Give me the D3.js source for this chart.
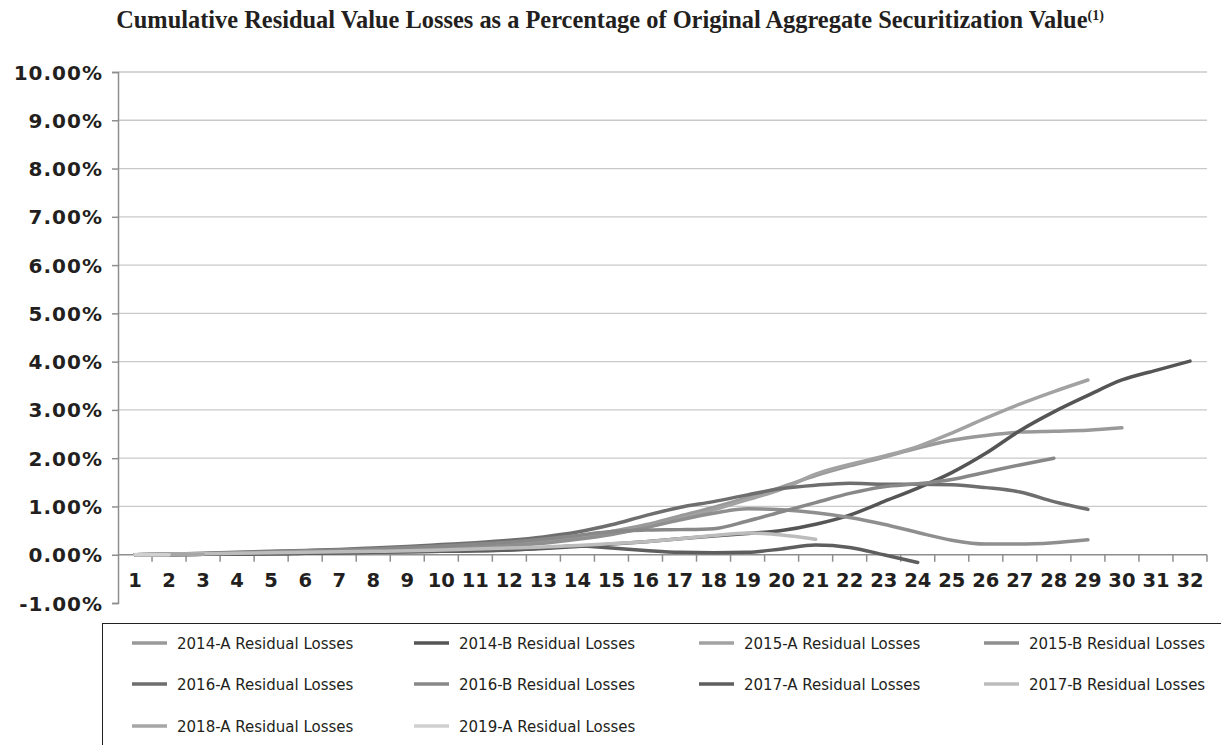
<!DOCTYPE html>
<html>
<head>
<meta charset="utf-8">
<script src="https://cdn.jsdelivr.net/npm/d3@7"></script>
<style>
  body { margin: 0; background: #fff; }
  svg { display: block; }
</style>
</head>
<body>
<div class="chart"></div>
<script>
// months since securitization, 1..32
const months = d3.range(1, 33);
const yTicks = [-0.01, 0, 0.01, 0.02, 0.03, 0.04, 0.05, 0.06, 0.07, 0.08, 0.09, 0.10];

// cumulative residual losses, in percent
const s2014A = [0, 0.01, 0.02, 0.03, 0.05, 0.06, 0.08, 0.10, 0.12, 0.14, 0.17, 0.21, 0.27, 0.36, 0.48, 0.62, 0.80, 0.98, 1.18, 1.40, 1.64, 1.84, 2.02, 2.21, 2.37, 2.47, 2.54, 2.56, 2.58, 2.63];
const s2014B = [0, 0.0, 0.01, 0.02, 0.02, 0.03, 0.04, 0.05, 0.06, 0.07, 0.08, 0.10, 0.13, 0.17, 0.22, 0.27, 0.33, 0.39, 0.44, 0.50, 0.63, 0.82, 1.10, 1.38, 1.70, 2.10, 2.57, 2.96, 3.30, 3.62, 3.82, 4.01];
const s2015A = [0, 0.01, 0.02, 0.03, 0.05, 0.06, 0.08, 0.10, 0.12, 0.14, 0.17, 0.20, 0.26, 0.34, 0.44, 0.57, 0.74, 0.93, 1.14, 1.36, 1.67, 1.87, 2.04, 2.24, 2.52, 2.83, 3.12, 3.38, 3.62];
const s2015B = [0, 0.01, 0.02, 0.03, 0.04, 0.06, 0.07, 0.09, 0.11, 0.13, 0.16, 0.19, 0.24, 0.32, 0.42, 0.56, 0.72, 0.86, 0.95, 0.93, 0.87, 0.77, 0.63, 0.46, 0.30, 0.22, 0.22, 0.25, 0.31];
const s2016A = [0, 0.01, 0.03, 0.05, 0.07, 0.09, 0.11, 0.14, 0.17, 0.21, 0.25, 0.30, 0.37, 0.47, 0.62, 0.81, 0.98, 1.10, 1.24, 1.37, 1.44, 1.48, 1.46, 1.46, 1.45, 1.39, 1.30, 1.10, 0.94];
const s2016B = [0, 0.01, 0.02, 0.04, 0.06, 0.08, 0.10, 0.12, 0.15, 0.18, 0.22, 0.26, 0.32, 0.40, 0.48, 0.51, 0.52, 0.54, 0.70, 0.89, 1.08, 1.27, 1.41, 1.47, 1.56, 1.71, 1.86, 2.00];
const s2017A = [0, 0.0, 0.01, 0.01, 0.02, 0.03, 0.04, 0.05, 0.06, 0.07, 0.08, 0.10, 0.14, 0.18, 0.14, 0.09, 0.05, 0.04, 0.05, 0.12, 0.20, 0.15, 0.0, -0.16];
const s2017B = [0, 0.01, 0.02, 0.03, 0.04, 0.05, 0.06, 0.07, 0.08, 0.10, 0.12, 0.14, 0.16, 0.19, 0.23, 0.27, 0.33, 0.40, 0.45, 0.41, 0.32];
const s2018A = [0, 0.0, 0.01];
const s2019A = [0, 0.0];

const seriesNames = ['2014-A', '2014-B', '2015-A', '2015-B', '2016-A', '2016-B', '2017-A', '2017-B', '2018-A', '2019-A'];
const seriesValues = [s2014A, s2014B, s2015A, s2015B, s2016A, s2016B, s2017A, s2017B, s2018A, s2019A];
const seriesColors = ['#999999', '#555555', '#a2a2a2', '#8f8f8f', '#6e6e6e', '#888888', '#5e5e5e', '#bcbcbc', '#a6a6a6', '#d0d0d0'];

const width = 1221;
const height = 745;
const svg = d3.select('.chart')
    .append('svg')
    .attr('width', width)
    .attr('height', height)

// title
const title = svg.append('text')
    .attr('x', 610)
    .attr('y', 28)
    .attr('text-anchor', 'middle')
    .attr('font-family', '"Liberation Serif", "Times New Roman", serif')
    .attr('font-weight', 'bold')
    .attr('font-size', 24.4)
    .attr('fill', '#231f20')
title.append('tspan').text('Cumulative Residual Value Losses as a Percentage of Original Aggregate Securitization Value')
title.append('tspan').attr('dy', -8).attr('font-size', 14).text('(1)')

const x = d3.scaleBand()
    .domain(months)
    .range([118, 1207])
const y = d3.scaleLinear()
    .domain([-0.01, 0.10])
    .range([603, 72])
const cx = (m) => x(m) + x.bandwidth() / 2
const pct = (d) => d3.format('.2%')(d).replace('\u2212', '-')

// gridlines
svg.selectAll('.grid')
    .data(yTicks.filter(t => t !== 0 && t !== -0.01))
    .enter()
    .append('line')
    .attr('x1', 118)
    .attr('x2', 1207)
    .attr('y1', (d) => y(d))
    .attr('y2', (d) => y(d))
    .attr('stroke', '#c9c9c9')
    .attr('stroke-width', 1.3)

// y axis
const yAxis = svg.append('g')
    .attr('transform', 'translate(118,0)')
    .call(d3.axisLeft(y).tickValues(yTicks).tickFormat(pct).tickSize(6).tickPadding(9))
yAxis.select('.domain').attr('stroke', '#8e8e8e').attr('stroke-width', 1.5)
yAxis.selectAll('.tick line').attr('stroke', '#8e8e8e').attr('stroke-width', 1.5)
yAxis.selectAll('text')
    .attr('font-family', '"DejaVu Sans", Verdana, sans-serif')
    .attr('font-weight', 'bold')
    .attr('font-size', 20)
    .attr('letter-spacing', 1)
    .attr('fill', '#231f20')
    .attr('dy', '0.35em')

// x axis at zero
svg.append('line')
    .attr('x1', 118).attr('x2', 1207)
    .attr('y1', y(0)).attr('y2', y(0))
    .attr('stroke', '#8e8e8e').attr('stroke-width', 1.5)
svg.selectAll('.xtick')
    .data(months)
    .enter()
    .append('line')
    .attr('x1', (d) => x(d) + x.bandwidth())
    .attr('x2', (d) => x(d) + x.bandwidth())
    .attr('y1', y(0))
    .attr('y2', y(0) + 7)
    .attr('stroke', '#8e8e8e').attr('stroke-width', 1.5)
svg.selectAll('.xlabel')
    .data(months)
    .enter()
    .append('text')
    .attr('x', (d) => cx(d))
    .attr('y', y(0) + 32)
    .attr('text-anchor', 'middle')
    .attr('font-family', '"DejaVu Sans", Verdana, sans-serif')
    .attr('font-weight', 'bold')
    .attr('font-size', 19.5)
    .attr('fill', '#231f20')
    .text((d) => d)

// lines
const line = d3.line()
    .x((d, i) => cx(months[i]))
    .y((d) => y(d / 100))
    .curve(d3.curveMonotoneX)
svg.selectAll('.series')
    .data(seriesValues)
    .enter()
    .append('path')
    .attr('d', (d) => line(d))
    .attr('fill', 'none')
    .attr('stroke', (d, i) => seriesColors[i])
    .attr('stroke-width', 3.5)
    .attr('stroke-linecap', 'round')
    .attr('stroke-linejoin', 'round')

// legend
svg.append('rect')
    .attr('x', 102.5)
    .attr('y', 623.5)
    .attr('width', 1130)
    .attr('height', 140)
    .attr('fill', 'none')
    .attr('stroke', '#231f20')
    .attr('stroke-width', 1)
const colX = [132, 414, 699, 984];
const rowY = [643, 684, 726];
const items = svg.selectAll('.legend')
    .data(seriesNames)
    .enter()
    .append('g')
    .attr('transform', (d, i) => `translate(${colX[i % 4]},${rowY[Math.floor(i / 4)]})`)
items.append('line')
    .attr('x1', 0).attr('x2', 35)
    .attr('stroke', (d, i) => seriesColors[i])
    .attr('stroke-width', 3.5)
items.append('text')
    .attr('x', 45)
    .attr('y', 5.5)
    .attr('font-family', '"DejaVu Sans", Verdana, sans-serif')
    .attr('font-size', 15)
    .attr('fill', '#231f20')
    .text((d) => `${d} Residual Losses`)
</script>
</body>
</html>
